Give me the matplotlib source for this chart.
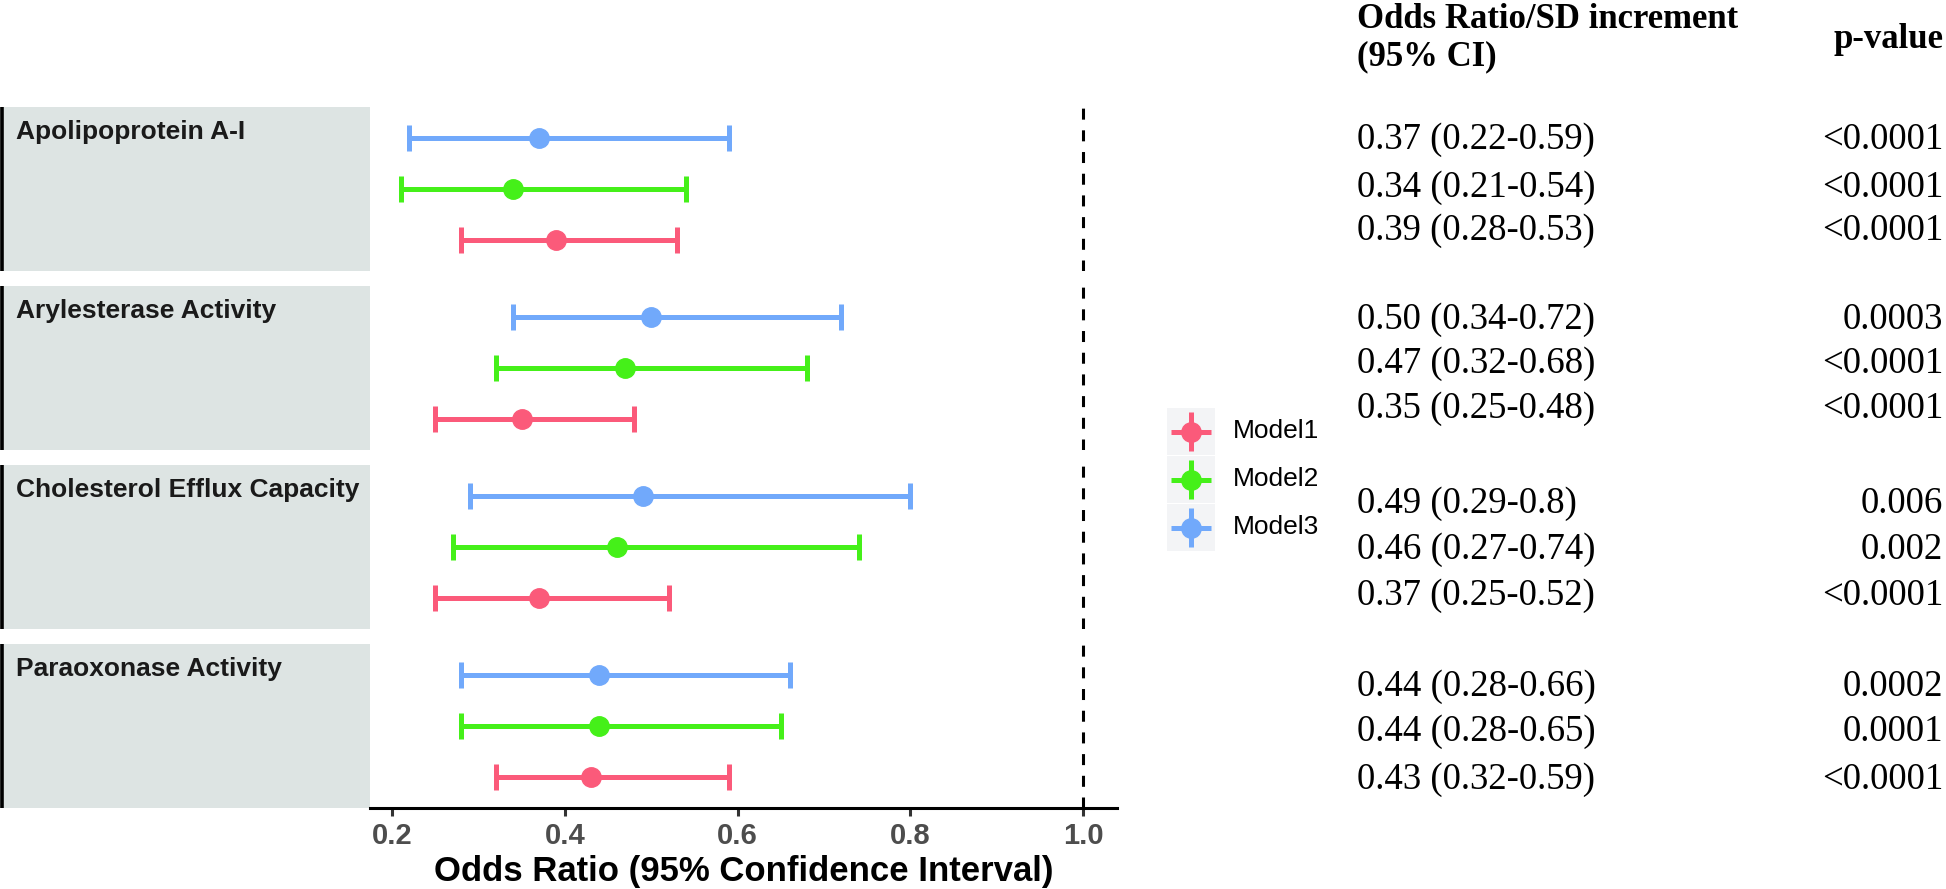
import matplotlib
matplotlib.use("Agg")
import matplotlib.pyplot as plt
from matplotlib.patches import Rectangle

# data (per biomarker, top to bottom)
biomarkers = ["Apolipoprotein A-I", "Arylesterase Activity",
              "Cholesterol Efflux Capacity", "Paraoxonase Activity"]
models = ["Model1", "Model2", "Model3"]

or_m1 = [0.39, 0.35, 0.37, 0.43]
lo_m1 = [0.28, 0.25, 0.25, 0.32]
hi_m1 = [0.53, 0.48, 0.52, 0.59]

or_m2 = [0.34, 0.47, 0.46, 0.44]
lo_m2 = [0.21, 0.32, 0.27, 0.28]
hi_m2 = [0.54, 0.68, 0.74, 0.65]

or_m3 = [0.37, 0.50, 0.49, 0.44]
lo_m3 = [0.22, 0.34, 0.29, 0.28]
hi_m3 = [0.59, 0.72, 0.80, 0.66]

ci_m1 = ["0.39 (0.28-0.53)", "0.35 (0.25-0.48)", "0.37 (0.25-0.52)", "0.43 (0.32-0.59)"]
ci_m2 = ["0.34 (0.21-0.54)", "0.47 (0.32-0.68)", "0.46 (0.27-0.74)", "0.44 (0.28-0.65)"]
ci_m3 = ["0.37 (0.22-0.59)", "0.50 (0.34-0.72)", "0.49 (0.29-0.8)", "0.44 (0.28-0.66)"]

p_m1 = ["<0.0001", "<0.0001", "<0.0001", "<0.0001"]
p_m2 = ["<0.0001", "<0.0001", "0.002", "0.0001"]
p_m3 = ["<0.0001", "0.0003", "0.006", "0.0002"]

x_ticks = [0.2, 0.4, 0.6, 0.8, 1.0]
colors = ["#FB5A7A", "#45F019", "#71A9FB"]

W, H = 1946, 889
fig = plt.figure(figsize=(W / 100, H / 100), dpi=100)

def fx(px):
    return px / W

def fy(px):
    return 1 - px / H

sans = ["Liberation Sans", "DejaVu Sans"]
narrow = ["Liberation Sans Narrow", "Liberation Sans", "DejaVu Sans"]
serif = ["Liberation Serif", "DejaVu Serif"]

# overlay axes in pixel coordinates for strips, legend and table
over = fig.add_axes([0, 0, 1, 1])
over.set_xlim(0, W)
over.set_ylim(H, 0)
over.axis("off")

panel_left, panel_right = 370, 1117
panel_h, panel_gap, top0 = 164, 15, 107

series = [(or_m1, lo_m1, hi_m1), (or_m2, lo_m2, hi_m2), (or_m3, lo_m3, hi_m3)]

for i, name in enumerate(biomarkers):
    top = top0 + i * (panel_h + panel_gap)
    # strip
    over.add_patch(Rectangle((0, top), panel_left, panel_h, facecolor="#DDE4E3",
                             edgecolor="none", zorder=0))
    over.plot([2, 2], [top, top + panel_h], color="black", lw=2.6,
              solid_capstyle="butt", zorder=1)
    over.text(16, top + 25, name, fontsize=19, fontweight="bold", family=sans,
              color="#1A1A1A", va="center", ha="left")

    ax = fig.add_axes([fx(panel_left), fy(top + panel_h),
                       fx(panel_right - panel_left), panel_h / H])
    ax.set_facecolor("none")
    for j, (o, lo, hi) in enumerate(series):
        y = j + 1
        ax.errorbar(o[i], y, xerr=[[o[i] - lo[i]], [hi[i] - o[i]]], fmt="o",
                    color=colors[j], ms=14, elinewidth=3.6, capsize=9.5,
                    capthick=3.6, zorder=3)
    ax.axvline(1.0, color="black", lw=2.2, ls=(0, (3.6, 3.5)), zorder=2)
    ax.set_xlim(0.1745, 1.039)
    ax.set_ylim(0.4, 3.6)
    ax.set_yticks([])
    for s in ["top", "right", "left"]:
        ax.spines[s].set_visible(False)
    if i < len(biomarkers) - 1:
        ax.spines["bottom"].set_visible(False)
        ax.set_xticks([])
    else:
        ax.spines["bottom"].set_linewidth(2.2)
        ax.set_xticks(x_ticks)
        ax.set_xticklabels([f"{t:.1f}" for t in x_ticks])
        ax.tick_params(axis="x", length=6, width=2.2, color="#333333",
                       labelsize=21, labelcolor="#4D4D4D", pad=4)
        for lab in ax.get_xticklabels():
            lab.set_fontweight("bold")
            lab.set_family(narrow)
        ax.set_xlabel("Odds Ratio (95% Confidence Interval)", fontsize=25,
                      fontweight="bold", family=sans, labelpad=4)

# legend
key_tops = [408, 456, 504]
for j, m in enumerate(models):
    kt = key_tops[j]
    over.add_patch(Rectangle((1167, kt), 48, 47, facecolor="#F3F4F6",
                             edgecolor="none"))
    cx, cy = 1191, kt + 23.5
    over.plot([1171, 1211], [cy, cy], color=colors[j], lw=3.6, solid_capstyle="butt")
    over.plot([cx, cx], [kt + 4, kt + 43], color=colors[j], lw=3.6, solid_capstyle="butt")
    over.plot([cx], [cy], "o", color=colors[j], ms=14)
    over.text(1233, cy, m, fontsize=19, family=sans, va="center", ha="left")

# table on the right
tx = 1357
over.text(tx, 19, "Odds Ratio/SD increment", fontsize=25, fontweight="bold",
          family=serif, va="center", ha="left")
over.text(tx, 57, "(95% CI)", fontsize=25, fontweight="bold",
          family=serif, va="center", ha="left")
over.text(1943, 40, "p-value", fontsize=25, fontweight="bold",
          family=serif, va="center", ha="right")

row_y = [[140, 188, 231], [320, 364, 409], [504, 550, 596], [687, 732, 780]]
ci_cols = [ci_m3, ci_m2, ci_m1]
p_cols = [p_m3, p_m2, p_m1]
for i in range(len(biomarkers)):
    for k in range(3):
        over.text(tx, row_y[i][k], ci_cols[k][i], fontsize=26.5, family=serif,
                  va="center", ha="left")
        over.text(1943, row_y[i][k], p_cols[k][i], fontsize=26.5, family=serif,
                  va="center", ha="right")

fig.savefig("out.png", dpi=100)
